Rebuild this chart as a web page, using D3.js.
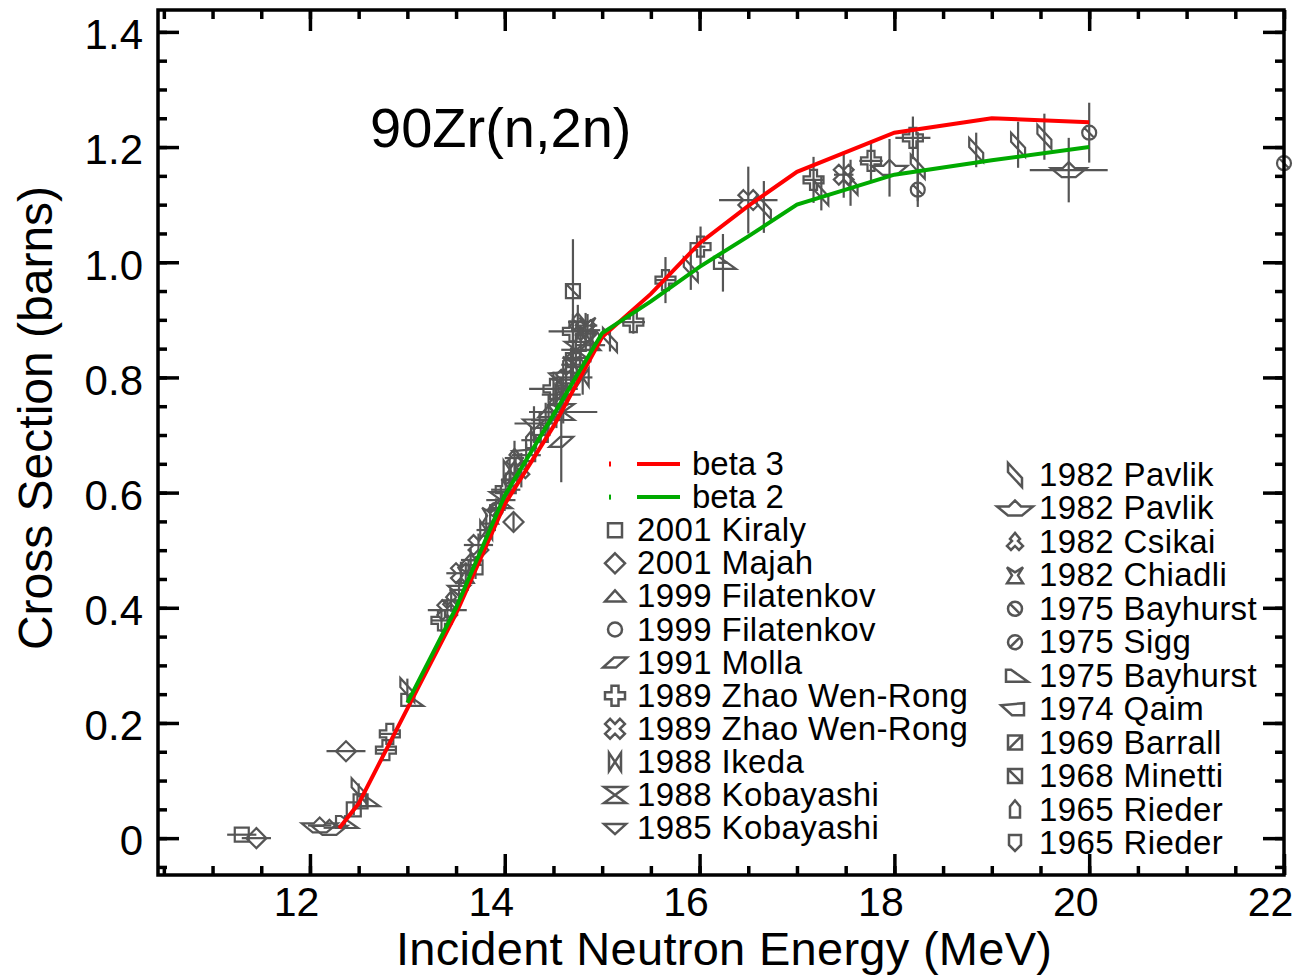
<!DOCTYPE html>
<html>
<head>
<meta charset="utf-8">
<script src="https://cdn.jsdelivr.net/npm/d3@7"></script>
<style>
body { margin: 0; background: #fff; }
text { font-family: "Liberation Sans", Arial, Helvetica, sans-serif; fill: #000; }
</style>
</head>
<body>
<script>
// calculated curves
var beta3Energy = [12.3, 12.5, 13.0, 13.5, 14.0, 14.5, 15.0, 15.5, 16.0, 16.5, 17.0, 18.0, 19.0, 20.0]
var beta3Sigma  = [0.017, 0.06, 0.225, 0.39, 0.58, 0.715, 0.87, 0.945, 1.033, 1.098, 1.157, 1.225, 1.25, 1.243]
var beta2Energy = [13.0, 13.5, 14.0, 14.5, 15.0, 15.5, 16.0, 16.5, 17.0, 18.0, 19.0, 20.0]
var beta2Sigma  = [0.235, 0.40, 0.595, 0.735, 0.877, 0.932, 0.992, 1.045, 1.10, 1.152, 1.177, 1.20]

var seriesNames = ["2001 Kiraly", "2001 Majah", "1999 Filatenkov", "1999 Filatenkov", "1991 Molla",
  "1989 Zhao Wen-Rong", "1989 Zhao Wen-Rong", "1988 Ikeda", "1988 Kobayashi", "1985 Kobayashi",
  "1982 Pavlik", "1982 Pavlik", "1982 Csikai", "1982 Chiadli", "1975 Bayhurst", "1975 Sigg",
  "1975 Bayhurst", "1974 Qaim", "1969 Barrall", "1968 Minetti", "1965 Rieder", "1965 Rieder"]

// measurements: [series, energy (MeV), sigma (b), dE, dSigma]
var measured = [
  [0, 11.30, 0.006, 0.15, 0], [1, 11.45, 0.000, 0.15, 0],
  [11, 12.10, 0.022, 0.12, 0], [11, 12.20, 0.018, 0.06, 0],
  [16, 12.36, 0.028, 0, 0.012], [0, 12.45, 0.050, 0, 0.01], [0, 12.52, 0.064, 0, 0.01],
  [10, 12.50, 0.083, 0, 0.012], [16, 12.58, 0.066, 0, 0.01], [1, 12.37, 0.151, 0.20, 0],
  [5, 12.78, 0.153, 0.10, 0], [5, 12.82, 0.181, 0.10, 0],
  [10, 13.00, 0.257, 0, 0.02], [16, 13.03, 0.240, 0, 0.012],
  [5, 13.35, 0.378, 0.10, 0.02], [6, 13.41, 0.396, 0.20, 0.02],
  [12, 13.45, 0.413, 0.10, 0.02], [9, 13.53, 0.431, 0.10, 0.015], [6, 13.55, 0.460, 0.15, 0.02],
  [13, 13.60, 0.457, 0, 0.02], [2, 13.65, 0.483, 0.10, 0.02], [0, 13.70, 0.470, 0, 0.02],
  [6, 13.73, 0.509, 0.15, 0.02], [7, 13.81, 0.535, 0.10, 0.03], [13, 13.85, 0.560, 0, 0.02],
  [3, 13.91, 0.570, 0.10, 0.02], [8, 13.96, 0.587, 0.15, 0.025], [5, 14.01, 0.605, 0.15, 0.03],
  [7, 14.05, 0.640, 0, 0.02], [15, 14.06, 0.622, 0.10, 0.02], [1, 14.09, 0.549, 0, 0.015],
  [12, 14.10, 0.660, 0.10, 0.03], [12, 14.17, 0.639, 0, 0.03], [17, 14.22, 0.665, 0.15, 0.02],
  [20, 14.27, 0.691, 0.10, 0.025], [9, 14.30, 0.720, 0.20, 0.03], [18, 14.37, 0.700, 0.10, 0.02],
  [21, 14.42, 0.726, 0.15, 0.03], [2, 14.45, 0.740, 0.20, 0.03], [5, 14.50, 0.780, 0.25, 0.03],
  [3, 14.53, 0.752, 0.10, 0.04], [4, 14.58, 0.688, 0, 0.07], [7, 14.58, 0.770, 0.20, 0.03],
  [17, 14.60, 0.800, 0.10, 0.03], [8, 14.60, 0.740, 0.35, 0.02], [6, 14.63, 0.796, 0.15, 0.04],
  [13, 14.68, 0.822, 0.10, 0.03], [0, 14.70, 0.830, 0.10, 0.03], [19, 14.70, 0.950, 0, 0.09],
  [5, 14.70, 0.880, 0.25, 0.03], [8, 14.73, 0.848, 0.15, 0.03], [12, 14.75, 0.896, 0.10, 0.03],
  [20, 14.78, 0.860, 0, 0.03], [7, 14.80, 0.800, 0.10, 0.03], [6, 14.83, 0.882, 0.15, 0.03],
  [13, 14.85, 0.890, 0.10, 0.02], [2, 14.88, 0.856, 0.15, 0.03], [15, 14.90, 0.870, 0, 0.03],
  [10, 15.08, 0.865, 0, 0.02], [5, 15.32, 0.896, 0.12, 0.02],
  [5, 15.65, 0.969, 0.10, 0.04], [10, 15.91, 0.987, 0, 0.035], [5, 16.01, 1.027, 0.05, 0.035],
  [16, 16.24, 0.999, 0.05, 0.05], [6, 16.50, 1.108, 0.30, 0.058], [10, 16.66, 1.096, 0, 0.045],
  [5, 17.17, 1.143, 0.10, 0.04], [10, 17.25, 1.120, 0, 0.03], [6, 17.48, 1.152, 0.10, 0.04],
  [10, 17.55, 1.138, 0, 0.04], [5, 17.76, 1.176, 0.12, 0.035], [11, 17.95, 1.164, 0, 0.05],
  [5, 18.19, 1.216, 0.18, 0.037], [10, 18.24, 1.166, 0, 0.06], [14, 18.24, 1.126, 0, 0.03],
  [10, 18.84, 1.195, 0, 0.03], [10, 19.27, 1.204, 0, 0.04], [10, 19.54, 1.218, 0, 0.04],
  [14, 20.00, 1.225, 0, 0.052], [11, 19.79, 1.160, 0.40, 0.056], [14, 22.00, 1.172, 0, 0]
]

var xTicks = [12, 14, 16, 18, 20, 22]
var yTicks = [0, 0.2, 0.4, 0.6, 0.8, 1.0, 1.2, 1.4]
var yTickLabels = ["0", "0.2", "0.4", "0.6", "0.8", "1.0", "1.2", "1.4"]

// marker outlines, one per series
var circ = "M7,0A7,7 0 1,1 -7,0A7,7 0 1,1 7,0Z"
var symbolPaths = [
  "M-7,-7H7V7H-7Z",
  "M0,-10L10,0L0,10L-10,0Z",
  "M-10,5H10L0,-6Z",
  circ,
  "M-12,5L1,5L12,-5L-1,-5Z",
  "M-3.5,-10H3.5V-3.5H10V3.5H3.5V10H-3.5V3.5H-10V-3.5H-3.5Z",
  "M-4.9,-9.9L0,-4.9L4.9,-9.9L9.9,-4.9L4.9,0L9.9,4.9L4.9,9.9L0,4.9L-4.9,9.9L-9.9,4.9L-4.9,0L-9.9,-4.9Z",
  "M-6,-9L6,9V-9L-6,9Z",
  "M-11,-8H11L-11,8H11Z",
  "M-11,-4H11L0,6Z",
  "M-7,-12V-3L7,12V3Z",
  "M-18,-2H-6L0,-8L6,-2H18L7,7H-7Z",
  "M0,-9L5,-3L3,-1L8,4L4,8L0,4L-4,8L-8,4L-3,-1L-5,-3Z",
  "M-8,-8L0,-3L8,-8L3,0L8,8H-8L-3,0Z",
  circ + "M-5,-5L5,5",
  circ + "M-5,5L5,-5",
  "M-9,-6H-4L13,6H-9Z",
  "M-14,-4L9,-6V6H-3Z",
  "M-7,-7H7V7H-7ZM-7,7L7,-7",
  "M-7,-7H7V7H-7ZM-7,-7L7,7",
  "M-5,-3L0,-9L5,-3V8H-5Z",
  "M-6,-8H6V2L0,8L-6,2Z"
]

var grey = "#555"

function drawPoints() {
  var pts = canvas.append("g").attr("class", "points")
    .attr("stroke", grey).attr("stroke-width", 2.2).attr("fill", "none")

  measured.forEach(function(d) {
    var px = x(d[1]), py = y(d[2])
    if (d[3] > 0) {
      pts.append("line").attr("x1", x(d[1] - d[3])).attr("x2", x(d[1] + d[3]))
        .attr("y1", py).attr("y2", py)
    }
    if (d[4] > 0) {
      pts.append("line").attr("x1", px).attr("x2", px)
        .attr("y1", y(d[2] - d[4])).attr("y2", y(d[2] + d[4]))
    }
    pts.append("path").attr("d", symbolPaths[d[0]])
      .attr("transform", "translate(" + px + "," + py + ")")
  })
}

function drawCurves() {
  var line = d3.line().x(function(d) { return x(d[0]) }).y(function(d) { return y(d[1]) })
  var curves = canvas.append("g").attr("class", "curves").attr("fill", "none").attr("stroke-width", 4)
  curves.append("path").datum(d3.zip(beta3Energy, beta3Sigma)).attr("stroke", "#ff0000").attr("d", line)
  curves.append("path").datum(d3.zip(beta2Energy, beta2Sigma)).attr("stroke", "#00aa00").attr("d", line)
}

function drawAxes() {
  var axes = canvas.append("g").attr("class", "axes")
  var xMinor = d3.range(10.5, 22.01, 0.5)
  var yMinor = d3.range(-0.05, 1.42, 0.05)

  var bottom = axes.append("g").attr("transform", "translate(0," + y.range()[0] + ")")
  bottom.append("g").call(d3.axisBottom(x).tickValues(xMinor).tickSize(-9).tickSizeOuter(0).tickFormat(""))
  bottom.append("g").call(d3.axisBottom(x).tickValues(xTicks).tickSize(-21).tickSizeOuter(0).tickPadding(12).tickFormat(d3.format("d")))
  bottom.selectAll("text").attr("font-size", 41).attr("dx", -14)

  var top = axes.append("g").attr("transform", "translate(0," + y.range()[1] + ")")
  top.append("g").call(d3.axisTop(x).tickValues(xMinor).tickSize(-9).tickSizeOuter(0).tickFormat(""))
  top.append("g").call(d3.axisTop(x).tickValues(xTicks).tickSize(-21).tickSizeOuter(0).tickFormat(""))

  var left = axes.append("g").attr("transform", "translate(" + x.range()[0] + ",0)")
  left.append("g").call(d3.axisLeft(y).tickValues(yMinor).tickSize(-9).tickSizeOuter(0).tickFormat(""))
  left.append("g").call(d3.axisLeft(y).tickValues(yTicks).tickSize(-21).tickSizeOuter(0).tickPadding(15)
    .tickFormat(function(d, i) { return yTickLabels[i] }))
  left.selectAll("text").attr("font-size", 42).attr("dy", "0.4em")

  var right = axes.append("g").attr("transform", "translate(" + x.range()[1] + ",0)")
  right.append("g").call(d3.axisRight(y).tickValues(yMinor).tickSize(-9).tickSizeOuter(0).tickFormat(""))
  right.append("g").call(d3.axisRight(y).tickValues(yTicks).tickSize(-21).tickSizeOuter(0).tickFormat(""))

  axes.selectAll(".domain").remove()
  axes.selectAll("line").attr("stroke", "#000").attr("stroke-width", 3.5)
  axes.selectAll("text").attr("fill", "#000").attr("font-family", null)

  axes.append("rect")
    .attr("x", x.range()[0]).attr("y", y.range()[1])
    .attr("width", x.range()[1] - x.range()[0]).attr("height", y.range()[0] - y.range()[1])
    .attr("fill", "none").attr("stroke", "#000").attr("stroke-width", 3.5)

  canvas.append("text").attr("x", 724).attr("y", 965).attr("text-anchor", "middle")
    .attr("font-size", 47).attr("textLength", 656).text("Incident Neutron Energy (MeV)")
  canvas.append("text").attr("transform", "translate(52,418) rotate(-90)").attr("text-anchor", "middle")
    .attr("font-size", 48).text("Cross Section (barns)")
  canvas.append("text").attr("x", 370).attr("y", 147).attr("font-size", 56).text("90Zr(n,2n)")
}

function drawLegend() {
  var legend = canvas.append("g").attr("class", "legend")
  var rowH = 33.1

  var betas = [["beta 3", "#ff0000"], ["beta 2", "#00aa00"]]
  betas.forEach(function(b, i) {
    var cy = 464 + rowH * i
    legend.append("rect").attr("x", 609).attr("y", cy - 2.5).attr("width", 2).attr("height", 5).attr("fill", b[1])
    legend.append("line").attr("x1", 637).attr("x2", 680).attr("y1", cy).attr("y2", cy)
      .attr("stroke", b[1]).attr("stroke-width", 4)
    legend.append("text").attr("x", 692).attr("y", cy + 11).attr("font-size", 33).text(b[0])
  })

  seriesNames.forEach(function(name, i) {
    var sx, tx, cy
    if (i < 10) {
      sx = 615; tx = 637; cy = 464 + rowH * (i + 2)
    } else {
      sx = 1015; tx = 1039; cy = 475 + 33.45 * (i - 10)
    }
    legend.append("path").attr("d", symbolPaths[i])
      .attr("transform", "translate(" + sx + "," + cy + ")")
      .attr("fill", "none").attr("stroke", grey).attr("stroke-width", 2.5)
    legend.append("text").attr("x", tx).attr("y", cy + 11).attr("font-size", 33)
      .attr("letter-spacing", 0.4).text(name)
  })
}

function main() {
  width = 1295
  height = 976

  canvas = d3.select("body").append("svg")
    .attr("width", width)
    .attr("height", height)

  x = d3.scaleLinear().domain([10.44, 22.0]).range([158, 1284])
  y = d3.scaleLinear().domain([-0.064, 1.438]).range([875, 10])

  drawPoints()
  drawCurves()
  drawLegend()
  drawAxes()
}

main()
</script>
</body>
</html>
